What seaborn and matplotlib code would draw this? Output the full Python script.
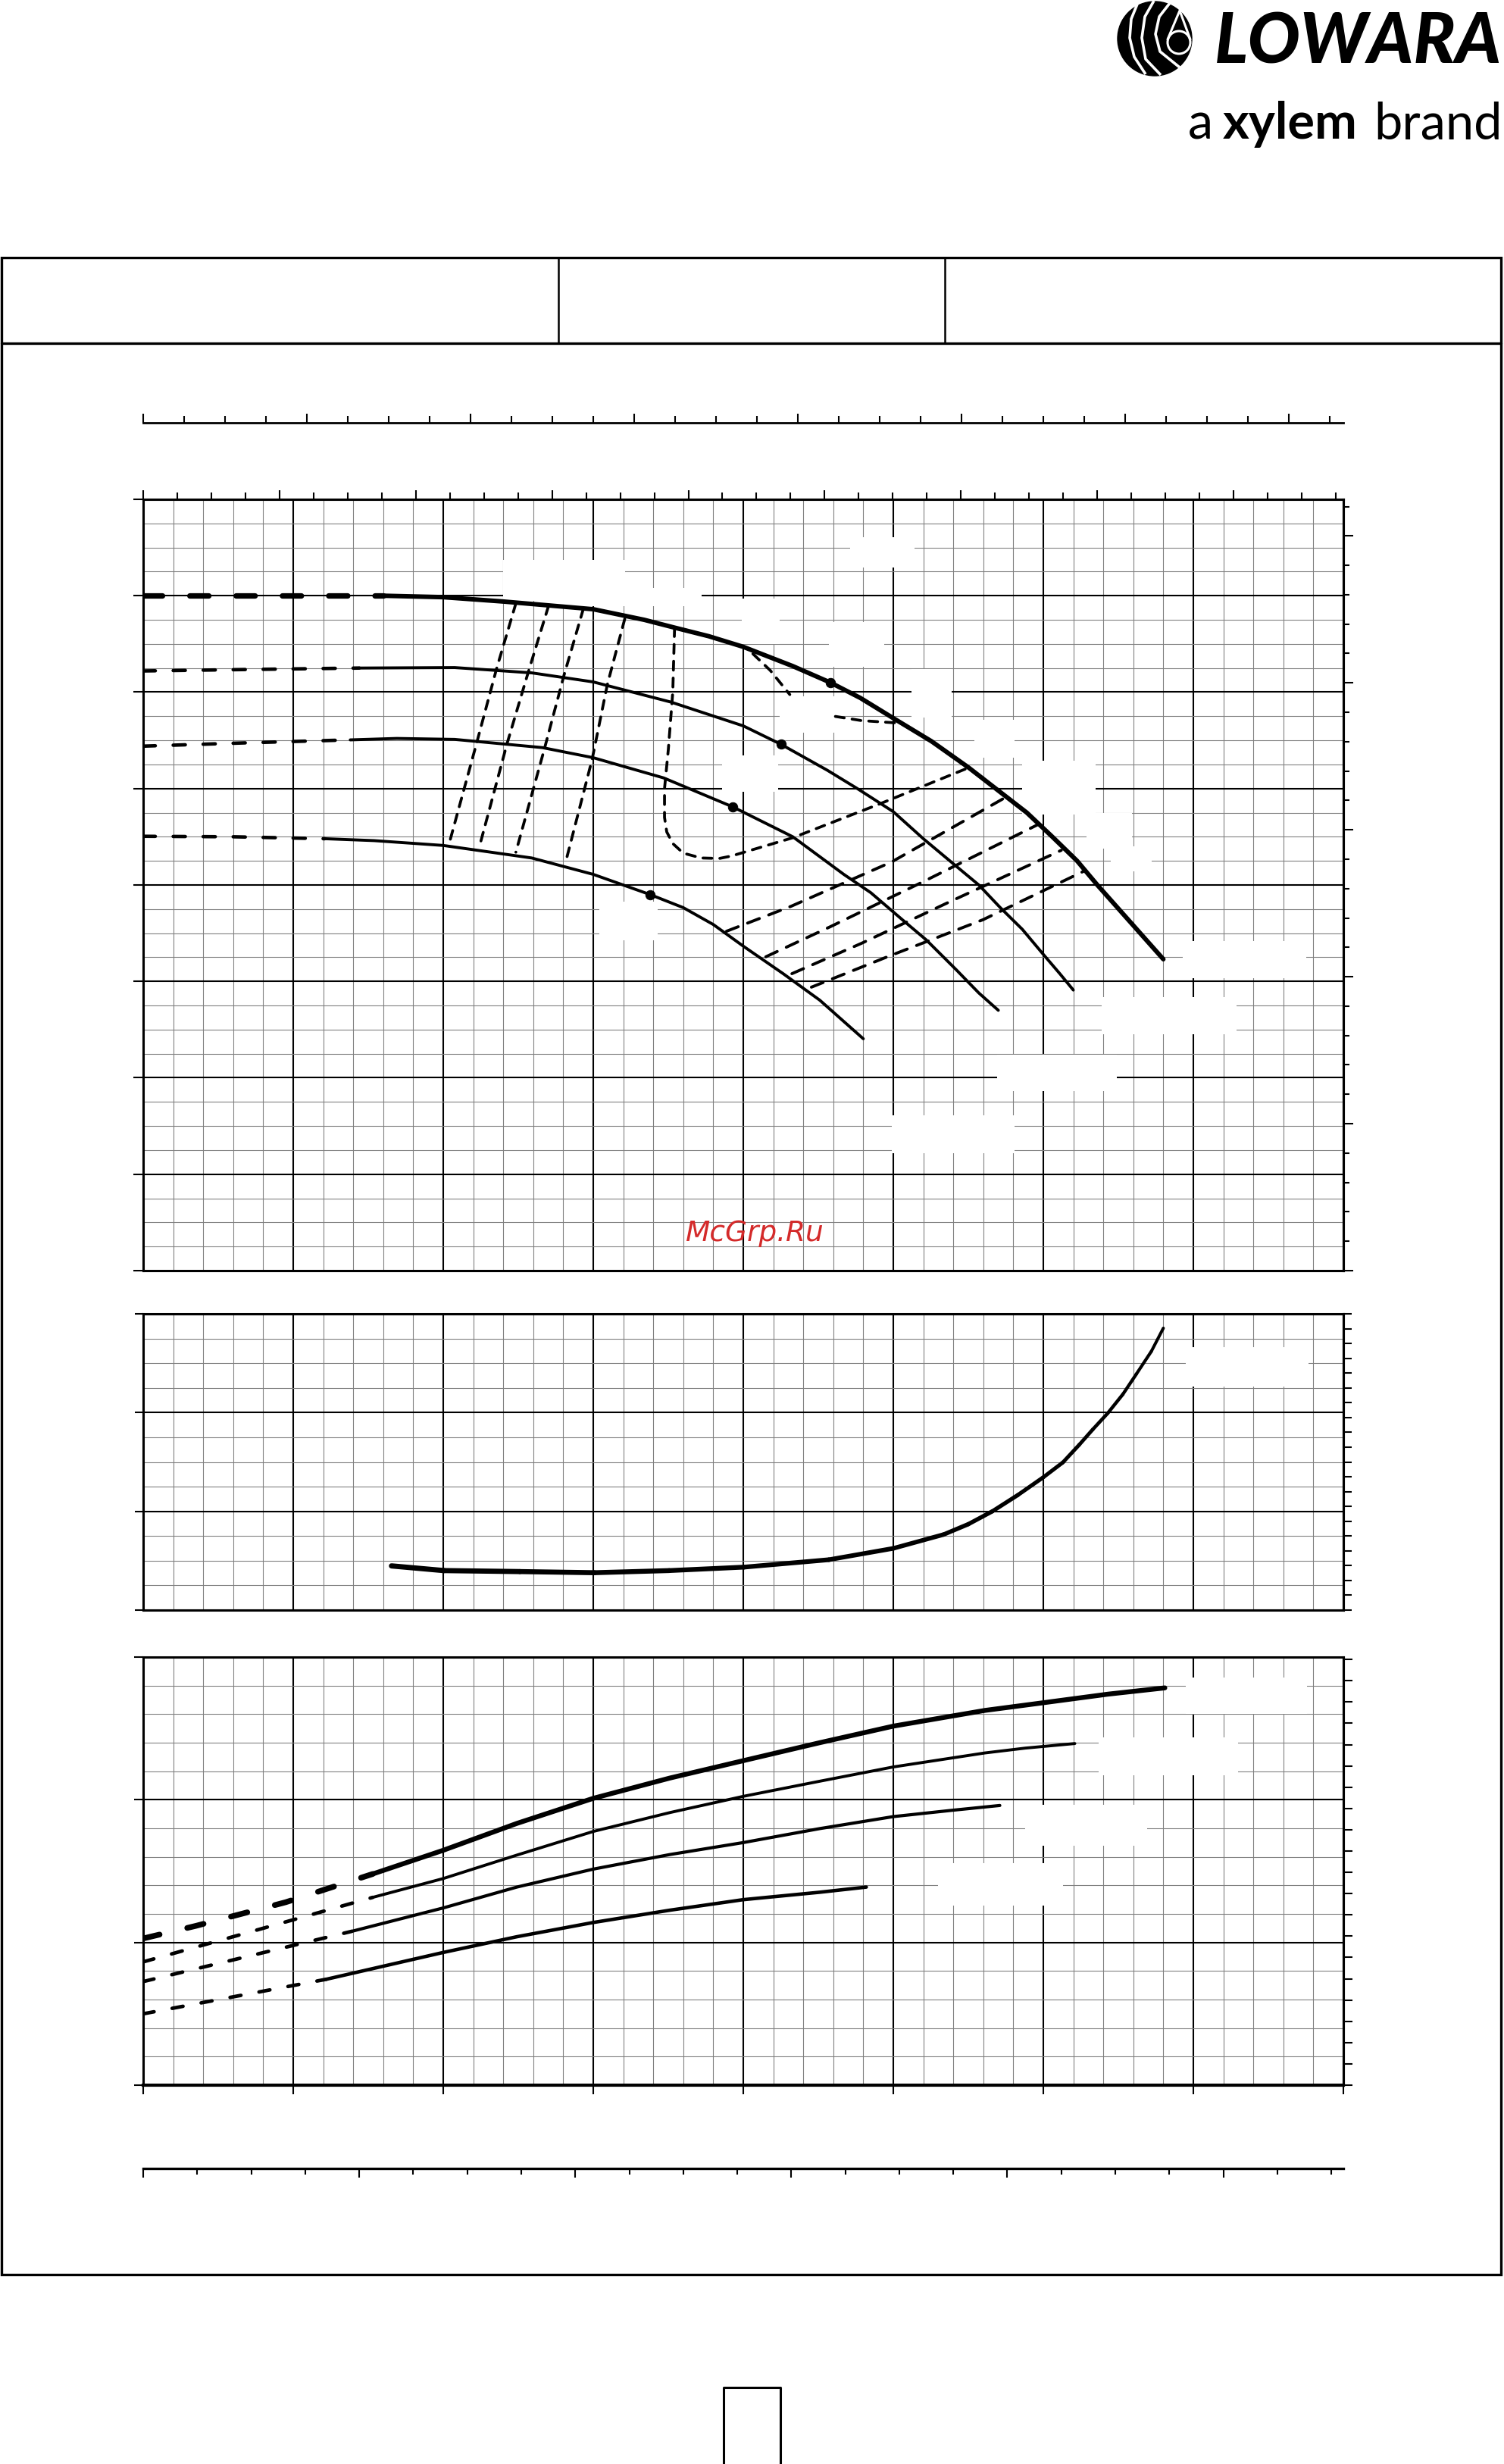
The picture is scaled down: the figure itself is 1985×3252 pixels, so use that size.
import numpy as np
import pandas as pd
import matplotlib
matplotlib.use("Agg")
import matplotlib.pyplot as plt
import seaborn as sns
from matplotlib.patches import Rectangle, Circle
from matplotlib.ticker import MultipleLocator, NullLocator

# ---------------- data (flow Q in m3/h) ----------------
# pump head curves, H in m (four impeller sizes), dashed part = low-flow range
q_h1_dash = [0, 8, 16]
h1_dash = [70.0, 70.0, 70.0]
q_h1 = [16, 20, 24, 30, 33.4, 35.4, 37.7, 40, 43.3, 45.8, 47.8, 50, 52.55, 55,
        58.9, 60.6, 62.25, 63.6, 64.8, 66.0, 68.0]
h1 = [70.0, 69.85, 69.4, 68.6, 67.5, 66.7, 65.8, 64.7, 62.7, 61.0, 59.4, 57.3, 54.9, 52.2,
      47.5, 45.0, 42.5, 40.0, 37.9, 35.8, 32.3]

q_h2_dash = [0, 7, 14.4]
h2_dash = [62.2, 62.35, 62.5]
q_h2 = [14.4, 20.76, 25.9, 30, 35.2, 40, 42.5, 45.6, 47.6, 50, 52, 54, 55.7, 57.1, 58.6,
        60, 61.1, 62]
h2 = [62.5, 62.55, 62.0, 61.06, 58.96, 56.5, 54.6, 51.9, 50.0, 47.6, 44.8, 42.2, 40.0, 37.7,
      35.4, 32.8, 30.8, 29.1]

q_h3_dash = [0, 7, 13.8]
h3_dash = [54.4, 54.75, 55.05]
q_h3 = [13.8, 16.9, 20.76, 26.6, 30, 34.7, 39.3, 43.3, 46.7, 48.5, 50.6, 52.2, 54.2, 55.7, 57.0]
h3 = [55.05, 55.2, 55.1, 54.25, 53.2, 51.1, 48.1, 45.0, 41.1, 39.2, 36.4, 34.3, 31.2, 28.8, 27.0]

q_h4_dash = [0, 6, 12.1]
h4_dash = [45.05, 45.0, 44.8]
q_h4 = [12.1, 15.4, 20, 25.9, 30, 33.8, 36.0, 38.0, 40.05, 42.66, 45.1, 48.0]
h4 = [44.8, 44.6, 44.1, 42.8, 41.1, 39.0, 37.65, 35.9, 33.6, 30.8, 28.05, 24.05]

# best efficiency points
q_bep = [45.8, 42.5, 39.3, 33.8]
h_bep = [61.0, 54.6, 48.1, 39.0]

# iso-efficiency lines, left group
q_iso_a = [24.84, 23.54, 22.24, 20.36]
h_iso_a = [69.2, 62.35, 54.8, 44.1]
q_iso_b = [27.02, 25.72, 24.26, 22.38]
h_iso_b = [68.95, 62.35, 54.7, 43.8]
q_iso_c = [29.34, 28.04, 26.74, 24.84]
h_iso_c = [68.65, 61.7, 54.1, 43.4]
q_iso_d = [32.1, 30.94, 29.92, 28.18]
h_iso_d = [67.6, 60.8, 53.0, 42.5]
# iso-efficiency loop (peak efficiency)
q_iso_e = [35.42, 35.3, 35.0, 34.75, 34.75, 34.9, 35.3, 36.0, 37.2, 38.4, 39.2, 43.3, 49.0, 54.84]
h_iso_e = [66.7, 60.0, 54.0, 50.0, 47.0, 45.5, 44.3, 43.3, 42.8, 42.75, 43.0, 44.9, 48.35, 52.05]
# iso-efficiency lines, right group
q_iso_f = [38.88, 43.2, 49.9, 57.44]
h_iso_f = [35.2, 37.8, 42.4, 49.05]
q_iso_g = [41.5, 45.84, 51.94, 59.62]
h_iso_g = [32.55, 35.7, 40.3, 46.25]
q_iso_h = [43.24, 47.88, 53.68, 61.2]
h_iso_h = [30.8, 33.95, 38.2, 43.6]
q_iso_i = [44.54, 49.6, 55.98, 62.66]
h_iso_i = [29.4, 32.55, 36.4, 41.4]
# short pieces of one iso line, interrupted by a label
q_iso_j = [40.64, 41.8, 43.1]
h_iso_j = [63.98, 62.25, 59.75]
q_iso_k = [46.14, 47.88, 50.5]
h_iso_k = [57.48, 57.05, 56.78]

# NPSH required, m
q_npsh = [16.55, 20.05, 25.1, 30.08, 35.06, 40.05, 45.7, 50.0, 53.35, 55.0, 56.6, 58.3,
          60.0, 61.3, 62.4, 63.3, 64.3, 65.3, 66.2, 67.2, 68.0]
npsh = [0.895, 0.80, 0.78, 0.757, 0.80, 0.87, 1.02, 1.25, 1.53, 1.74, 2.0, 2.33,
        2.69, 2.99, 3.35, 3.66, 3.99, 4.37, 4.78, 5.24, 5.71]

# absorbed power, kW
q_p1_dash = [0, 3.5, 9.5, 15.3]
p1_dash = [5.14, 5.58, 6.41, 7.4]
q_p1 = [15.3, 20, 24.9, 30, 35.1, 40, 45.1, 50, 56.1, 60, 64.3, 68.1]
p1 = [7.4, 8.23, 9.17, 10.05, 10.76, 11.37, 12.0, 12.58, 13.13, 13.4, 13.7, 13.92]

q_p2_dash = [0, 7, 15.3]
p2_dash = [4.32, 5.35, 6.58]
q_p2 = [15.3, 20, 24.9, 30, 35.1, 40, 45.1, 50, 56.1, 58.8, 62.1]
p2 = [6.58, 7.24, 8.06, 8.89, 9.55, 10.12, 10.65, 11.15, 11.64, 11.81, 11.97]

q_p3_dash = [0, 13.9]
p3_dash = [3.63, 5.39]
q_p3 = [13.9, 20, 24.9, 30, 35.1, 40, 45.1, 50, 53.9, 57.1]
p3 = [5.39, 6.21, 6.94, 7.57, 8.08, 8.5, 8.99, 9.41, 9.63, 9.8]

q_p4_dash = [0, 12.2]
p4_dash = [2.5, 3.71]
q_p4 = [12.2, 20, 24.9, 30, 35.1, 40, 45.1, 48.2]
p4 = [3.71, 4.65, 5.2, 5.7, 6.13, 6.5, 6.76, 6.94]

# blank label areas (x0, x1, y0, y1 in data units of each chart)
head_blanks = [(24.0, 32.1, 69.5, 73.7), (26.7, 37.2, 68.9, 70.8), (47.1, 51.4, 72.9, 76.1),
               (39.9, 42.4, 65.0, 69.7), (45.7, 49.4, 62.6, 67.3), (42.4, 46.1, 55.8, 59.6),
               (51.2, 53.9, 57.4, 62.4), (38.6, 42.3, 49.7, 53.4), (55.4, 58.1, 53.2, 57.1),
               (58.6, 63.5, 47.3, 52.9), (62.9, 65.9, 43.8, 47.5), (64.5, 67.2, 41.4, 44.0),
               (69.3, 77.5, 30.3, 34.2), (63.9, 72.9, 24.5, 28.4), (56.9, 64.9, 18.6, 22.4),
               (49.9, 58.1, 12.2, 16.1), (30.4, 34.3, 34.3, 38.3)]
npsh_blanks = [(69.5, 77.7, 4.53, 5.33)]
power_blanks = [(69.5, 77.6, 13.02, 14.29), (63.7, 73.0, 10.87, 12.19),
                (58.8, 66.9, 8.4, 9.83), (53.0, 61.3, 6.3, 7.78)]

# ---------------- page layout (pixels) ----------------
W, H = 1985, 3252
DPI = 100
HEAD_BOX = (189, 659, 1773, 1677)
NPSH_BOX = (189, 1734, 1773, 2125)
POWER_BOX = (189, 2187, 1773, 2752)

M3H_TO_USGPM = 4.4029
M3H_TO_IMPGPM = 3.6662
M3H_TO_LS = 1 / 3.6
M_TO_FT = 3.2808
NPSH_RIGHT = 20 / 6
KW_TO_HP = 1.341

sns.set_theme(style="white")
plt.rcParams["font.family"] = ["Lato", "DejaVu Sans"]
plt.rcParams["lines.scale_dashes"] = False

fig = plt.figure(figsize=(W / DPI, H / DPI), dpi=DPI)


def frac_rect(x0, y0, x1, y1):
    return [x0 / W, 1 - y1 / H, (x1 - x0) / W, (y1 - y0) / H]


def make_chart(box, ylim, ymaj, ymin, ytick_len):
    ax = fig.add_axes(frac_rect(*box))
    ax.set_xlim(0, 80)
    ax.set_ylim(*ylim)
    ax.xaxis.set_major_locator(MultipleLocator(10))
    ax.xaxis.set_minor_locator(MultipleLocator(2))
    ax.yaxis.set_major_locator(MultipleLocator(ymaj))
    ax.yaxis.set_minor_locator(MultipleLocator(ymin))
    ax.set_axisbelow(True)
    ax.grid(which="minor", color="0.5", lw=0.8)
    ax.grid(which="major", color="black", lw=1.5)
    ax.tick_params(which="both", bottom=False, top=False, right=False, left=False,
                   labelbottom=False, labelleft=False)
    ax.tick_params(axis="y", which="major", left=True, direction="out",
                   length=ytick_len, width=1.5, color="black")
    for sp in ax.spines.values():
        sp.set_color("black")
        sp.set_linewidth(2.2)
    ax.set_facecolor("white")
    return ax


def right_scale(ax, factor, major, minor, maj_len, min_len):
    sec = ax.secondary_yaxis("right", functions=(lambda v: v * factor, lambda v: v / factor))
    sec.yaxis.set_major_locator(MultipleLocator(major))
    if minor:
        sec.yaxis.set_minor_locator(MultipleLocator(minor))
    else:
        sec.yaxis.set_minor_locator(NullLocator())
    sec.tick_params(which="major", direction="out", length=maj_len, width=1.5,
                    color="black", labelright=False)
    sec.tick_params(which="minor", direction="out", length=min_len, width=1.5, color="black")
    sec.spines["right"].set_linewidth(2.2)
    sec.spines["right"].set_color("black")
    return sec


def blanks(ax, boxes):
    for x0, x1, y0, y1 in boxes:
        ax.add_patch(Rectangle((x0, y0), x1 - x0, y1 - y0, facecolor="white",
                               edgecolor="none", zorder=1.5))


def curve(ax, x, y, lw, ls="-"):
    sns.lineplot(x=x, y=y, ax=ax, color="black", lw=lw, linestyle=ls, sort=False,
                 estimator=None, legend=False, solid_capstyle="round",
                 dash_capstyle="round", solid_joinstyle="round")


# ---------------- page frame, logo ----------------
page = fig.add_axes([0, 0, 1, 1])
page.set_xlim(0, W)
page.set_ylim(H, 0)
page.axis("off")
page.add_patch(Rectangle((2, 340), 1979, 2662, fill=False, lw=2.4, ec="black"))
page.plot([2, 1981], [453, 453], color="black", lw=2.4)
for xd in (737, 1247):
    page.plot([xd, xd], [340, 453], color="black", lw=1.8)
page.plot([955, 955, 1030, 1030], [3260, 3151, 3151, 3260], color="black", lw=2.2)

page.add_patch(Circle((1524, 51), 49, color="black"))
logo_stripes = [([1502, 1493, 1491, 1497, 1512], [3, 25, 50, 75, 98]),
                ([1523, 1511, 1507, 1512, 1532], [1, 22, 50, 78, 99]),
                ([1544, 1530, 1525, 1531, 1557], [4, 22, 45, 68, 89])]
for xs, ys in logo_stripes:
    page.plot(xs, ys, color="white", lw=2.6, solid_capstyle="butt")
page.add_patch(Circle((1556, 56), 15, fill=False, ec="white", lw=2.2))
page.plot([1541, 1557, 1571], [52, 14, 52], color="white", lw=2.2)

page.text(1603, 83, "LOWARA", fontsize=66, fontweight="black", style="italic",
          ha="left", va="baseline", color="black")
page.text(1568, 183, "a", fontsize=48, fontweight="normal", ha="left", va="baseline",
          color="black")
page.text(1614, 183, "xylem", fontsize=48, fontweight="bold", ha="left", va="baseline",
          color="black")
page.text(1983, 183, "brand", fontsize=48, fontweight="normal", ha="right", va="baseline",
          color="black")

# ---------------- flow scale above the charts (Imp gpm) ----------------
top_scale = fig.add_axes(frac_rect(189, 528, 1773, 558))
top_scale.set_xlim(0, 80 * M3H_TO_IMPGPM)
top_scale.set_yticks([])
for side in ("top", "left", "right"):
    top_scale.spines[side].set_visible(False)
top_scale.spines["bottom"].set_linewidth(2.0)
top_scale.spines["bottom"].set_color("black")
top_scale.xaxis.set_major_locator(MultipleLocator(40))
top_scale.xaxis.set_minor_locator(MultipleLocator(10))
top_scale.tick_params(axis="x", which="major", bottom=True, direction="in", length=8.8,
                      width=1.5, color="black", labelbottom=False)
top_scale.tick_params(axis="x", which="minor", bottom=True, direction="in", length=6.5,
                      width=1.5, color="black")
top_scale.patch.set_alpha(0)

# ---------------- head chart ----------------
ax_h = make_chart(HEAD_BOX, (0, 80), 10, 2.5, 9.4)
sec_top = ax_h.secondary_xaxis("top", functions=(lambda q: q * M3H_TO_USGPM,
                                                 lambda g: g / M3H_TO_USGPM))
sec_top.xaxis.set_major_locator(MultipleLocator(40))
sec_top.xaxis.set_minor_locator(MultipleLocator(10))
sec_top.tick_params(which="major", direction="out", length=8.6, width=1.5, color="black",
                    labeltop=False)
sec_top.tick_params(which="minor", direction="out", length=6.3, width=1.5, color="black")
sec_top.spines["top"].set_linewidth(2.2)
right_scale(ax_h, M_TO_FT, 50, 10, 9.0, 5.8)
blanks(ax_h, head_blanks)

iso_left = (0, (8.5, 7.5))
iso_right = (0, (12, 9.5))
for qx, hy in [(q_iso_a, h_iso_a), (q_iso_b, h_iso_b), (q_iso_c, h_iso_c),
               (q_iso_d, h_iso_d), (q_iso_e, h_iso_e), (q_iso_j, h_iso_j),
               (q_iso_k, h_iso_k)]:
    curve(ax_h, qx, hy, 2.7, iso_left)
for qx, hy in [(q_iso_f, h_iso_f), (q_iso_g, h_iso_g), (q_iso_h, h_iso_h),
               (q_iso_i, h_iso_i)]:
    curve(ax_h, qx, hy, 2.8, iso_right)

curve(ax_h, q_h1_dash, h1_dash, 5.2, (0, (18, 26)))
curve(ax_h, q_h1, h1, 4.3)
for qd, hd, qs, hs in [(q_h2_dash, h2_dash, q_h2, h2), (q_h3_dash, h3_dash, q_h3, h3),
                       (q_h4_dash, h4_dash, q_h4, h4)]:
    curve(ax_h, qd, hd, 3.3, (0, (11.5, 17)))
    curve(ax_h, qs, hs, 2.8)
sns.scatterplot(x=q_bep, y=h_bep, ax=ax_h, color="black", s=80, edgecolor="black",
                legend=False, zorder=3)

# ---------------- NPSH chart ----------------
ax_n = make_chart(NPSH_BOX, (0, 6), 2, 0.5, 8.0)
right_scale(ax_n, NPSH_RIGHT, 1, None, 7.8, 0)
blanks(ax_n, npsh_blanks)
npsh_lw = np.linspace(5.0, 2.9, len(q_npsh) - 1)
for i in range(len(q_npsh) - 1):
    curve(ax_n, q_npsh[i:i + 2], npsh[i:i + 2], npsh_lw[i])

# ---------------- power chart ----------------
ax_p = make_chart(POWER_BOX, (0, 15), 5, 1, 9.0)
ax_p.tick_params(axis="x", which="major", bottom=True, direction="out", length=8.6,
                 width=1.5, color="black")
ax_p.spines["bottom"].set_linewidth(3.0)
right_scale(ax_p, KW_TO_HP, 1, None, 8.5, 0)
blanks(ax_p, power_blanks)
curve(ax_p, q_p1_dash, p1_dash, 5.4, (0, (16, 27)))
curve(ax_p, q_p1, p1, 4.6)
for qd, pd_, qs, ps, lw in [(q_p2_dash, p2_dash, q_p2, p2, 2.8),
                            (q_p3_dash, p3_dash, q_p3, p3, 3.0),
                            (q_p4_dash, p4_dash, q_p4, p4, 3.3)]:
    curve(ax_p, qd, pd_, 3.4, (0, (10.5, 17.5)))
    curve(ax_p, qs, ps, lw)

# ---------------- flow scale below the charts (l/s) ----------------
bot_scale = fig.add_axes(frac_rect(189, 2862, 1773, 2892))
bot_scale.set_xlim(0, 80 * M3H_TO_LS)
bot_scale.set_yticks([])
for side in ("bottom", "left", "right"):
    bot_scale.spines[side].set_visible(False)
bot_scale.spines["top"].set_linewidth(2.4)
bot_scale.spines["top"].set_color("black")
bot_scale.xaxis.set_major_locator(MultipleLocator(4))
bot_scale.xaxis.set_minor_locator(MultipleLocator(1))
bot_scale.tick_params(axis="x", which="major", bottom=False, top=True, direction="in",
                      length=8.4, width=1.5, color="black", labelbottom=False, labeltop=False)
bot_scale.tick_params(axis="x", which="minor", bottom=False, top=True, direction="in",
                      length=5.8, width=1.5, color="black")
bot_scale.patch.set_alpha(0)

fig.text(996 / W, 1 - 1628 / H, "McGrp.Ru", color="#d42a2a", fontsize=27,
         style="italic", family=["DejaVu Sans"], ha="center", va="center", zorder=10)

fig.savefig("out.png", dpi=DPI, facecolor="white")
